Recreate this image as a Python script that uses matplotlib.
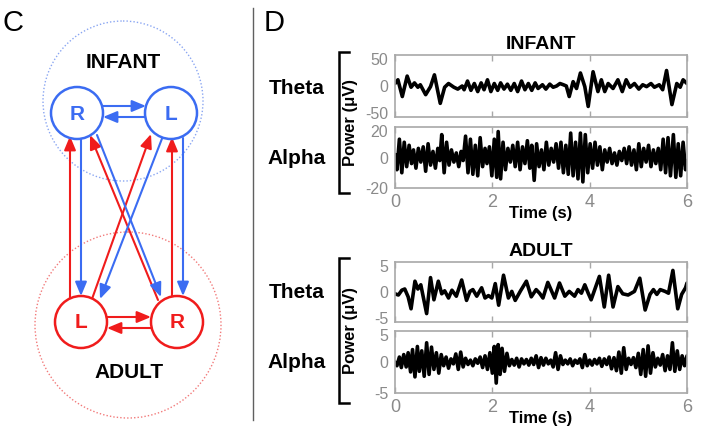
import matplotlib
matplotlib.use('Agg')
import matplotlib.pyplot as plt
import matplotlib.transforms as mtransforms
from matplotlib.patches import Circle

plt.rcParams['font.family'] = ['Liberation Sans', 'DejaVu Sans']
plt.rcParams['axes.unicode_minus'] = False

# ---------------- data (time s, power uV) ----------------
infant_theta = [(0.00,4),(0.06,10),(0.15,-17),(0.25,16),(0.33,-2),(0.40,5),(0.47,-2),(0.52,2),(0.63,-14),
    (0.73,-1),(0.81,18),(0.93,-28),(1.02,-2),(1.10,4),(1.21,-2),(1.29,-5),(1.38,0),(1.42,-6),(1.49,8),
    (1.56,-7),(1.63,4),(1.70,-9),(1.77,5),(1.83,-6),(1.90,10),(1.97,-9),(2.04,4),(2.11,-7),(2.17,5),
    (2.24,-5),(2.31,3),(2.38,-7),(2.45,4),(2.52,-9),(2.60,8),(2.67,-6),(2.74,4),(2.81,-7),(2.88,5),
    (2.94,-4),(3.03,2),(3.10,-5),(3.18,3),(3.25,-2),(3.32,0),(3.39,4),(3.46,2),(3.52,0),(3.58,-17),
    (3.66,7),(3.73,-4),(3.81,21),(3.90,-1),(3.97,-33),(4.07,23),(4.17,-9),(4.24,10),(4.31,-9),(4.38,4),
    (4.48,-4),(4.58,10),(4.67,-9),(4.75,10),(4.83,-2),(4.92,4),(5.01,-5),(5.09,2),(5.17,-1),(5.26,4),
    (5.33,-2),(5.43,2),(5.50,-6),(5.58,25),(5.69,-30),(5.79,4),(5.86,-2),(5.92,10),(6.00,4)]

infant_alpha = [(0.00,2),(0.04,-8),(0.09,12),(0.14,-10),(0.19,10),(0.24,-6),(0.29,8),(0.34,-4),(0.38,5),
    (0.43,-7),(0.48,6),(0.53,-3),(0.58,7),(0.63,-9),(0.68,9),(0.73,-5),(0.78,4),(0.83,-7),(0.88,6),
    (0.92,-2),(0.96,15),(1.01,-10),(1.06,10),(1.11,-5),(1.16,5),(1.21,-3),(1.26,3),(1.31,-6),(1.36,4),
    (1.40,-2),(1.45,14),(1.50,-10),(1.55,12),(1.60,-11),(1.65,8),(1.70,-12),(1.75,13),(1.80,-6),(1.85,6),
    (1.89,-4),(1.94,7),(1.99,-12),(2.04,12),(2.09,-13),(2.12,17),(2.17,-14),(2.22,10),(2.27,-8),(2.32,6),
    (2.37,-3),(2.42,8),(2.47,-6),(2.52,10),(2.57,-8),(2.62,7),(2.67,-4),(2.72,11),(2.77,-7),(2.81,8),
    (2.86,-15),(2.91,9),(2.96,-6),(3.01,5),(3.06,-8),(3.11,10),(3.16,-5),(3.21,6),(3.26,-3),(3.31,9),
    (3.36,-7),(3.41,10),(3.46,-10),(3.51,8),(3.56,-11),(3.61,16),(3.66,-12),(3.71,10),(3.76,-14),(3.81,16),
    (3.86,-16),(3.91,15),(3.96,-10),(4.01,9),(4.06,-7),(4.11,10),(4.16,-5),(4.21,7),(4.26,-8),(4.31,5),
    (4.36,-3),(4.41,6),(4.46,-4),(4.51,3),(4.56,-5),(4.61,4),(4.66,-2),(4.71,6),(4.76,-4),(4.81,7),
    (4.86,-5),(4.91,5),(4.96,-8),(5.01,9),(5.06,-6),(5.11,6),(5.16,-3),(5.21,8),(5.26,-6),(5.31,5),
    (5.36,-4),(5.41,6),(5.46,-8),(5.51,12),(5.56,-10),(5.61,13),(5.66,-12),(5.72,15),(5.77,-13),(5.82,9),
    (5.87,-12),(5.92,10),(5.97,-8),(6.00,-2)]

adult_theta = [(0.00,-0.3),(0.07,-0.5),(0.14,0.3),(0.20,0.5),(0.27,-0.8),(0.33,-2.8),(0.41,1.8),(0.47,0.5),
    (0.53,1.2),(0.65,-3.6),(0.73,2.4),(0.80,-1.3),(0.89,1.8),(0.96,-0.3),(1.02,0.2),(1.10,-1.0),(1.17,0.3),
    (1.26,-0.7),(1.37,2.0),(1.47,-1.4),(1.54,0.1),(1.60,0.4),(1.68,-0.7),(1.78,0.7),(1.85,-1.0),(1.92,-0.6),
    (1.99,-1.0),(2.06,1.4),(2.13,-2.2),(2.23,2.8),(2.33,-1.0),(2.40,0.1),(2.47,-1.4),(2.58,0.2),(2.70,1.8),
    (2.80,-0.8),(2.90,0.4),(2.97,-0.2),(3.04,-1.0),(3.14,1.6),(3.28,-1.0),(3.38,1.5),(3.49,-0.7),(3.58,0.1),
    (3.69,-0.7),(3.76,0.4),(3.83,-0.2),(3.90,1.2),(3.97,-0.2),(4.03,-1.3),(4.20,2.6),(4.30,-2.5),(4.39,2.8),
    (4.48,-2.5),(4.58,0.9),(4.68,-0.3),(4.79,-0.5),(4.92,0.1),(5.03,2.3),(5.14,-3.0),(5.24,-0.4),(5.31,0.4),
    (5.38,-0.4),(5.45,0.4),(5.55,0.1),(5.62,-0.2),(5.71,3.6),(5.81,-2.8),(5.89,-0.4),(5.97,0.7),(6.00,1.5)]

adult_alpha = [(0.00,0.0),(0.04,-0.6),(0.09,0.8),(0.13,-0.9),(0.18,1.2),(0.23,-0.8),(0.27,1.5),(0.32,-1.6),
    (0.36,2.0),(0.41,-2.4),(0.46,2.5),(0.50,-1.5),(0.55,1.8),(0.60,-2.3),(0.65,3.1),(0.70,-2.0),(0.75,2.4),
    (0.80,-1.2),(0.85,1.5),(0.90,-1.8),(0.95,1.2),(1.00,-0.6),(1.05,0.8),(1.10,-1.0),(1.15,0.5),(1.20,-0.3),
    (1.25,1.3),(1.30,-1.2),(1.35,1.6),(1.40,-0.8),(1.45,0.6),(1.50,-0.4),(1.55,0.3),(1.60,-0.6),(1.65,0.5),
    (1.70,-0.2),(1.75,0.8),(1.80,-0.9),(1.85,1.0),(1.90,-1.2),(1.95,1.5),(2.00,-1.8),(2.04,2.5),(2.08,-3.4),
    (2.12,2.8),(2.16,-2.0),(2.20,2.2),(2.25,-1.5),(2.30,1.4),(2.35,-0.6),(2.40,0.4),(2.45,-0.5),(2.50,0.6),
    (2.55,-0.8),(2.60,0.5),(2.65,-0.3),(2.70,0.4),(2.75,-0.5),(2.80,0.6),(2.85,-0.4),(2.90,1.0),(2.95,-0.9),
    (3.00,0.7),(3.05,-0.5),(3.10,0.6),(3.15,-0.3),(3.20,0.3),(3.25,-0.8),(3.30,1.5),(3.35,-1.2),(3.40,1.0),
    (3.45,-0.4),(3.50,0.3),(3.55,-0.3),(3.60,0.5),(3.65,-0.6),(3.70,0.3),(3.75,-0.2),(3.80,0.5),(3.85,-0.9),
    (3.90,1.2),(3.95,-0.6),(4.00,0.3),(4.05,-0.5),(4.10,0.4),(4.15,-0.3),(4.20,0.6),(4.25,-0.7),(4.30,0.5),
    (4.35,-0.4),(4.40,0.8),(4.45,-1.1),(4.50,0.7),(4.55,-1.4),(4.60,1.6),(4.65,-1.8),(4.70,2.3),(4.75,-1.2),
    (4.80,0.6),(4.85,-0.4),(4.90,0.7),(4.95,-0.9),(5.00,1.4),(5.05,-2.0),(5.10,2.0),(5.15,-2.3),(5.20,2.6),
    (5.25,-1.8),(5.30,1.5),(5.35,-0.8),(5.40,0.6),(5.45,-0.5),(5.50,1.2),(5.55,-1.4),(5.60,1.0),(5.65,-1.2),
    (5.70,3.1),(5.75,-1.5),(5.80,1.8),(5.85,-1.2),(5.90,1.0),(5.95,-0.6),(6.00,1.0)]

x_ticks = [0, 2, 4, 6]
infant_theta_ticks = [-50, 0, 50]
infant_alpha_ticks = [-20, 0, 20]
adult_ticks = [-5, 0, 5]
band_labels = ['Theta', 'Alpha']
group_labels = ['INFANT', 'ADULT']

BLUE = '#3b6cf2'
RED = '#f01c1c'
GRAY_SP = '#a8a8a8'
GRAY_TXT = '#8a8a8a'

fig = plt.figure(figsize=(7.13, 4.40), dpi=100)

# ---------------- overlay in pixel coordinates ----------------
ov = fig.add_axes([0, 0, 1, 1])
ov.set_xlim(0, 713)
ov.set_ylim(440, 0)
ov.axis('off')

# panel letters and divider
ov.text(2, 23, 'C', fontsize=21, va='center', ha='left')
ov.text(264, 23, 'D', fontsize=21, va='center', ha='left')
ov.plot([253, 253], [8, 420], color='#606060', lw=1.0)

# big dotted group circles
ov.add_patch(Circle((123, 101), 80, fill=False, ls=(0, (1, 1.5)), lw=1.0, ec='#8aa6f2', zorder=1))
ov.add_patch(Circle((128, 325), 93, fill=False, ls=(0, (1, 1.5)), lw=1.0, ec='#f27a7a', zorder=1))
ov.text(123, 62, group_labels[0], fontsize=15, fontweight='bold', ha='center', va='center')
ov.text(129, 373, group_labels[1], fontsize=15, fontweight='bold', ha='center', va='center')

nodes = {'iR': ((77, 113), BLUE, 'R'), 'iL': ((171, 113), BLUE, 'L'),
         'aL': ((81, 322), RED, 'L'), 'aR': ((177, 322), RED, 'R')}
for (cx, cy), col, lab in nodes.values():
    ov.add_patch(Circle((cx, cy), 26, fc='white', ec=col, lw=1.8, zorder=3))
    ov.text(cx, cy + 1, lab, color=col, fontsize=15, fontweight='bold', ha='center', va='center', zorder=4)


def arrow(p0, p1, col):
    ov.annotate('', xy=p1, xytext=p0,
                arrowprops=dict(arrowstyle='-|>,head_length=0.6,head_width=0.25', color=col, lw=1.5,
                                shrinkA=0, shrinkB=0, mutation_scale=14), zorder=2)

# infant horizontal
arrow((103, 106), (146, 106), BLUE)
arrow((145, 117), (103, 117), BLUE)
# adult horizontal
arrow((107, 317), (151, 317), RED)
arrow((151, 328), (107, 328), RED)
# verticals
arrow((70, 298), (70, 136), RED)
arrow((81, 139), (81, 296), BLUE)
arrow((172, 298), (172, 137), RED)
arrow((183, 138), (183, 296), BLUE)
# diagonals
arrow((92, 299), (151, 134), RED)
arrow((158, 300), (90, 135), RED)
arrow((97, 135), (161, 297), BLUE)
arrow((163, 136), (100, 299), BLUE)

# ---------------- right panel signals ----------------
L, W = 395 / 713, 292 / 713


def frac(top, bottom):
    return [L, 1 - bottom / 440, W, (bottom - top) / 440]


def setup(ax, data, ylim, yticks, show_x, nudge_top=False, nudge_bottom=False):
    t = [p[0] for p in data]
    v = [p[1] for p in data]
    ax.plot(t, v, color='black', lw=2.6, solid_joinstyle='round', solid_capstyle='round')
    ax.set_xlim(0, 6)
    ax.set_ylim(*ylim)
    ax.set_xticks(x_ticks)
    ax.set_yticks(yticks)
    for s in ax.spines.values():
        s.set_color(GRAY_SP)
        s.set_linewidth(1.2)
    ax.tick_params(axis='x', direction='in', top=True, length=4, width=1, color=GRAY_SP,
                   labelcolor=GRAY_TXT, labelsize=13, pad=4)
    ax.tick_params(axis='y', length=0, labelcolor=GRAY_TXT, labelsize=11.5, pad=5)
    if not show_x:
        ax.tick_params(axis='x', labelbottom=False)
    else:
        ax.set_xlabel('Time (s)', fontsize=12, fontweight='bold', labelpad=-3)
    labels = ax.get_yticklabels()
    if nudge_bottom:
        lab = labels[0]
        lab.set_transform(lab.get_transform() + mtransforms.ScaledTranslation(0, 3 / 72, fig.dpi_scale_trans))
    if nudge_top:
        lab = labels[-1]
        lab.set_transform(lab.get_transform() + mtransforms.ScaledTranslation(0, -3 / 72, fig.dpi_scale_trans))


a1 = fig.add_axes(frac(55, 117))
setup(a1, infant_theta, (-50, 50), infant_theta_ticks, False, nudge_top=True, nudge_bottom=True)
a2 = fig.add_axes(frac(127, 188))
setup(a2, infant_alpha, (-20, 20), infant_alpha_ticks, True, nudge_top=True)
a3 = fig.add_axes(frac(262, 322))
setup(a3, adult_theta, (-5, 5), adult_ticks, False, nudge_top=True, nudge_bottom=True)
a4 = fig.add_axes(frac(331, 393))
setup(a4, adult_alpha, (-5, 5), adult_ticks, True, nudge_top=True)

a1.set_title(group_labels[0], fontsize=14, fontweight='bold', pad=4)
a3.set_title(group_labels[1], fontsize=14, fontweight='bold', pad=4)

for (ytheta, yalpha, ytop, ybot) in [(88, 158, 52, 193), (292, 363, 258, 403)]:
    ov.text(297, ytheta, band_labels[0], fontsize=15, fontweight='bold', ha='center', va='center')
    ov.text(297, yalpha, band_labels[1], fontsize=15, fontweight='bold', ha='center', va='center')
    ov.plot([349, 339, 339, 349], [ytop, ytop, ybot, ybot], color='black', lw=1.8, solid_joinstyle='miter')
    ov.text(351, (ytop + ybot) / 2, 'Power (μV)', fontsize=12, fontweight='bold', rotation=90,
            ha='center', va='center')

fig.savefig('out.png', dpi=100)
